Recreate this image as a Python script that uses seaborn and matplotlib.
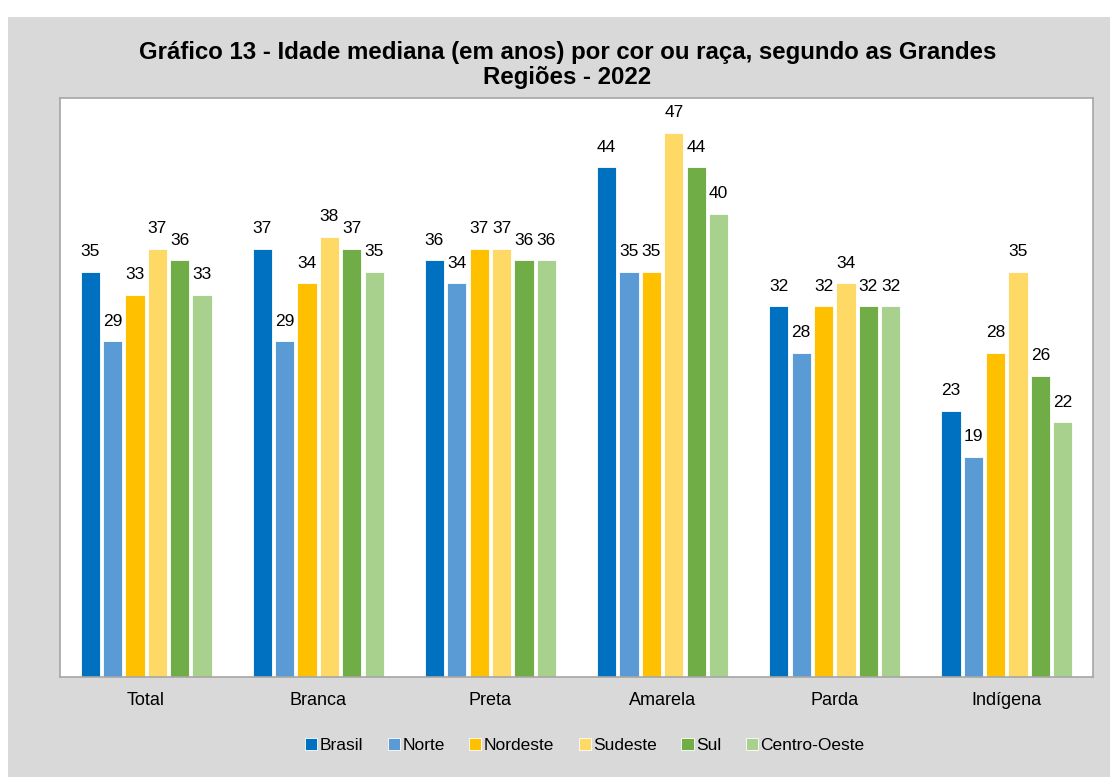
import pandas as pd
import matplotlib.pyplot as plt
import seaborn as sns
from matplotlib.patches import Rectangle

# values
categorias = ['Total', 'Branca', 'Preta', 'Amarela', 'Parda', 'Indígena']
regioes = ['Brasil', 'Norte', 'Nordeste', 'Sudeste', 'Sul', 'Centro-Oeste']
brasil = [35, 37, 36, 44, 32, 23]
norte = [29, 29, 34, 35, 28, 19]
nordeste = [33, 34, 37, 35, 32, 28]
sudeste = [37, 38, 37, 47, 34, 35]
sul = [36, 37, 36, 44, 32, 26]
centro_oeste = [33, 35, 36, 40, 32, 22]
cores = ['#0070C0', '#5B9BD5', '#FFC000', '#FFD966', '#70AD47', '#A9D18E']

series = [brasil, norte, nordeste, sudeste, sul, centro_oeste]
linhas = []
for reg, vals in zip(regioes, series):
    for cat, v in zip(categorias, vals):
        linhas.append({'Cor ou raça': cat, 'Região': reg, 'Idade': v})
df = pd.DataFrame(linhas)

sns.set_style('white')
plt.rcParams['font.family'] = ['Liberation Sans', 'DejaVu Sans']

fig = plt.figure(figsize=(11.1, 7.77), dpi=100)
fig.patch.set_facecolor('white')
# grey chart area (leaves a thin white strip top/left like the source)
fig.patches.append(Rectangle((8 / 1110, 0), 1, 1 - 17 / 777, transform=fig.transFigure,
                             facecolor='#d9d9d9', edgecolor='none', zorder=-10))

ax = fig.add_axes([60 / 1110, 100 / 777, 1033 / 1110, 579 / 777])
sns.barplot(data=df, x='Cor ou raça', y='Idade', hue='Região', palette=cores, saturation=1,
            width=0.78, gap=0.14, edgecolor='white', linewidth=0.6, ax=ax, legend=True)

for cont in ax.containers:
    ax.bar_label(cont, fmt='%d', padding=9, fontsize=12.5, color='#000000')

ax.set_ylim(0, 50)
ax.set_xlim(-0.5, 5.5)
ax.set_yticks([])
ax.set_xlabel('')
ax.set_ylabel('')
ax.tick_params(axis='x', length=0, pad=11, labelsize=13, colors='#000000')
for s in ax.spines.values():
    s.set_color('#a6a6a6')
    s.set_linewidth(1.2)

handles, labels = ax.get_legend_handles_labels()
ax.legend_.remove()
fig.legend(handles, labels, loc='center', bbox_to_anchor=(0.527, 0.041), ncol=6,
           frameon=False, fontsize=12.5, handlelength=0.7, handleheight=0.7,
           handletextpad=0.15, columnspacing=1.4, labelcolor='#000000')

fig.text(0.511, 0.916, 'Gráfico 13 - Idade mediana (em anos) por cor ou raça, segundo as Grandes\nRegiões - 2022',
         ha='center', va='center', fontsize=17.3, fontweight='bold', linespacing=1.1, color='#000000')

fig.savefig('out.png', dpi=100, facecolor=fig.get_facecolor())
